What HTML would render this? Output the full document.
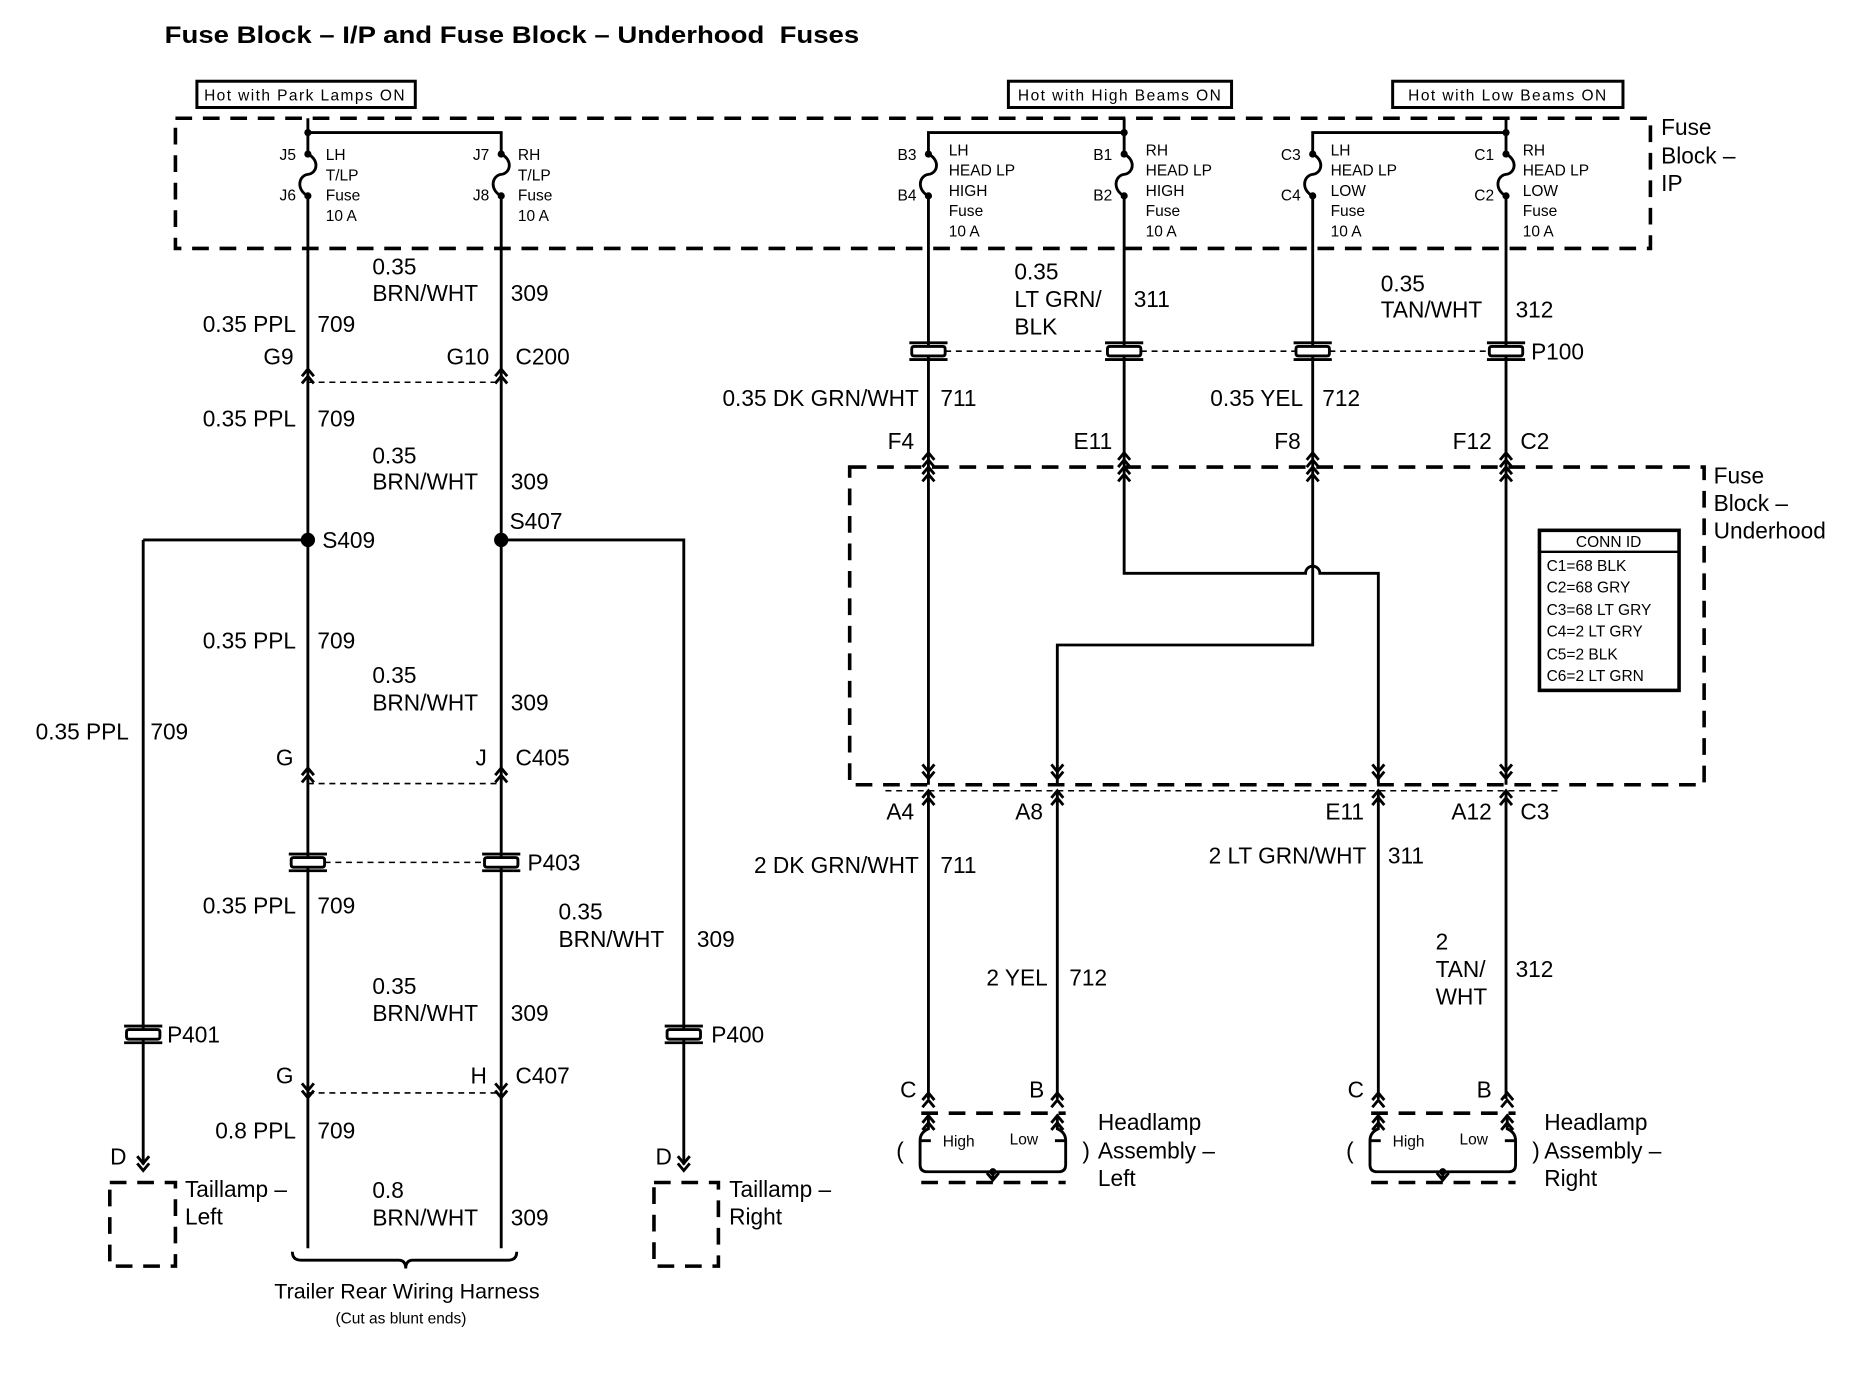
<!DOCTYPE html>
<html><head><meta charset="utf-8"><style>
html,body{margin:0;padding:0;background:#fff;}
svg{display:block;}
text{font-family:"Liberation Sans",sans-serif;fill:#000;}
.l{font-size:19px;}
.s{font-size:13px;}
.w{stroke:#000;stroke-width:2.4;fill:none;}
.d{stroke:#000;stroke-width:3;fill:none;stroke-dasharray:14,9;}
.dl{stroke:#000;stroke-width:1.3;fill:none;stroke-dasharray:5,4;}
.r{text-anchor:end;}
.m{text-anchor:middle;}
</style></head><body>
<svg width="1870" height="1376" viewBox="0 0 1567 1152" preserveAspectRatio="none" xmlns="http://www.w3.org/2000/svg">
<defs>
<g id="up"><path d="M-5,6 L0,0 L5,6 M-5,12 L0,6 L5,12" class="w" stroke-width="1.6"/></g>
<g id="dn"><path d="M-5,-6 L0,0 L5,-6 M-5,-12 L0,-6 L5,-12" class="w" stroke-width="1.6"/></g>
<g id="pill"><path d="M-12,-4 Q-14,-4 -14,-2 L-14,2 Q-14,4 -12,4 L12,4 Q14,4 14,2 L14,-2 Q14,-4 12,-4 Z" fill="#fff" stroke="#000" stroke-width="2.4"/><path d="M-16,-7 L16,-7 M-16,7 L16,7" stroke="#000" stroke-width="2.4"/></g>
<g id="fuse"><circle cx="0" cy="0" r="3"/><circle cx="0" cy="35" r="3"/><path d="M0,0 C10,5 8,16 0,17 C-8,18 -10,30 0,35" class="w" stroke-width="2"/></g>
</defs>

<text x="138" y="36" style="font-size:20px;font-weight:bold" textLength="582" lengthAdjust="spacingAndGlyphs">Fuse Block – I/P and Fuse Block – Underhood&#160; Fuses</text>

<rect x="165" y="68" width="183" height="22" fill="none" stroke="#000" stroke-width="2.5"/>
<text x="171" y="84" class="s" textLength="168">Hot with Park Lamps ON</text>
<rect x="845" y="68" width="187" height="22" fill="none" stroke="#000" stroke-width="2.5"/>
<text x="853" y="84" class="s" textLength="170">Hot with High Beams ON</text>
<rect x="1167" y="68" width="193" height="22" fill="none" stroke="#000" stroke-width="2.5"/>
<text x="1180" y="84" class="s" textLength="166">Hot with Low Beams ON</text>

<rect x="147" y="99" width="1236" height="109" class="d"/>
<text x="1392" y="113" class="l">Fuse</text><text x="1392" y="137" class="l">Block –</text><text x="1392" y="160" class="l">IP</text>

<!-- left fuses -->
<path d="M258,99 L258,129 M258,111 L420,111 L420,129" class="w"/>
<circle cx="258" cy="111" r="3"/>
<use href="#fuse" x="258" y="129"/><use href="#fuse" x="420" y="129"/>
<text x="248" y="134" class="s r">J5</text><text x="248" y="168" class="s r">J6</text>
<text x="273" y="134" class="s">LH</text><text x="273" y="151" class="s">T/LP</text><text x="273" y="168" class="s">Fuse</text><text x="273" y="185" class="s">10 A</text>
<text x="410" y="134" class="s r">J7</text><text x="410" y="168" class="s r">J8</text>
<text x="434" y="134" class="s">RH</text><text x="434" y="151" class="s">T/LP</text><text x="434" y="168" class="s">Fuse</text><text x="434" y="185" class="s">10 A</text>

<!-- right fuses -->
<path d="M942,99 L942,129 M942,111 L778,111 L778,129 M1262,99 L1262,129 M1262,111 L1100,111 L1100,129" class="w"/>
<circle cx="942" cy="111" r="3"/><circle cx="1262" cy="111" r="3"/>
<use href="#fuse" x="778" y="129"/><use href="#fuse" x="942" y="129"/><use href="#fuse" x="1100" y="129"/><use href="#fuse" x="1262" y="129"/>
<text x="768" y="134" class="s r">B3</text><text x="768" y="168" class="s r">B4</text>
<text x="932" y="134" class="s r">B1</text><text x="932" y="168" class="s r">B2</text>
<text x="1090" y="134" class="s r">C3</text><text x="1090" y="168" class="s r">C4</text>
<text x="1252" y="134" class="s r">C1</text><text x="1252" y="168" class="s r">C2</text>
<g class="s">
<text x="795" y="130">LH</text><text x="795" y="147">HEAD LP</text><text x="795" y="164">HIGH</text><text x="795" y="181">Fuse</text><text x="795" y="198">10 A</text>
<text x="960" y="130">RH</text><text x="960" y="147">HEAD LP</text><text x="960" y="164">HIGH</text><text x="960" y="181">Fuse</text><text x="960" y="198">10 A</text>
<text x="1115" y="130">LH</text><text x="1115" y="147">HEAD LP</text><text x="1115" y="164">LOW</text><text x="1115" y="181">Fuse</text><text x="1115" y="198">10 A</text>
<text x="1276" y="130">RH</text><text x="1276" y="147">HEAD LP</text><text x="1276" y="164">LOW</text><text x="1276" y="181">Fuse</text><text x="1276" y="198">10 A</text>
</g>

<!-- left wiring -->
<path d="M258,164 L258,1045 M420,164 L420,1045 M120,452 L258,452 M420,452 L573,452 L573,975 M120,452 L120,975" class="w"/>
<circle cx="258" cy="452" r="6"/><circle cx="420" cy="452" r="6"/>
<use href="#up" x="258" y="309"/><use href="#up" x="420" y="309"/>
<path d="M258,320 L420,320" class="dl"/>
<use href="#up" x="258" y="643"/><use href="#up" x="420" y="643"/>
<path d="M258,656 L420,656" class="dl"/>
<use href="#pill" x="258" y="722"/><use href="#pill" x="420" y="722"/>
<path d="M272,722 L406,722" class="dl"/>
<use href="#dn" x="258" y="919"/><use href="#dn" x="420" y="919"/>
<path d="M258,915 L420,915" class="dl"/>
<use href="#pill" x="120" y="866"/><use href="#pill" x="573" y="866"/>
<use href="#dn" x="120" y="980"/><use href="#dn" x="573" y="980"/>
<rect x="92" y="990" width="55" height="70" class="d" stroke-dasharray="12,8"/>
<rect x="548" y="990" width="54" height="70" class="d" stroke-dasharray="12,8"/>
<path d="M245,1048 Q245,1055 252,1055 L334,1055 Q340,1055 340,1062 Q340,1055 346,1055 L426,1055 Q433,1055 433,1048" class="w" stroke-width="2"/>

<g class="l">
<text x="312" y="230">0.35</text><text x="312" y="252">BRN/WHT</text><text x="428" y="252">309</text>
<text x="248" y="278" class="r">0.35 PPL</text><text x="266" y="278">709</text>
<text x="246" y="305" class="r">G9</text><text x="410" y="305" class="r">G10</text><text x="432" y="305">C200</text>
<text x="248" y="357" class="r">0.35 PPL</text><text x="266" y="357">709</text>
<text x="312" y="388">0.35</text><text x="312" y="410">BRN/WHT</text><text x="428" y="410">309</text>
<text x="270" y="459">S409</text><text x="427" y="443">S407</text>
<text x="248" y="543" class="r">0.35 PPL</text><text x="266" y="543">709</text>
<text x="312" y="572">0.35</text><text x="312" y="595">BRN/WHT</text><text x="428" y="595">309</text>
<text x="108" y="619" class="r">0.35 PPL</text><text x="126" y="619">709</text>
<text x="246" y="641" class="r">G</text><text x="408" y="641" class="r">J</text><text x="432" y="641">C405</text>
<text x="442" y="729">P403</text>
<text x="248" y="765" class="r">0.35 PPL</text><text x="266" y="765">709</text>
<text x="468" y="770">0.35</text><text x="468" y="793">BRN/WHT</text><text x="584" y="793">309</text>
<text x="312" y="832">0.35</text><text x="312" y="855">BRN/WHT</text><text x="428" y="855">309</text>
<text x="140" y="873">P401</text><text x="596" y="873">P400</text>
<text x="246" y="907" class="r">G</text><text x="408" y="907" class="r">H</text><text x="432" y="907">C407</text>
<text x="248" y="953" class="r">0.8 PPL</text><text x="266" y="953">709</text>
<text x="106" y="975" class="r">D</text><text x="563" y="975" class="r">D</text>
<text x="155" y="1002">Taillamp –</text><text x="155" y="1025">Left</text>
<text x="611" y="1002">Taillamp –</text><text x="611" y="1025">Right</text>
<text x="312" y="1003">0.8</text><text x="312" y="1026">BRN/WHT</text><text x="428" y="1026">309</text>
<text x="341" y="1087" class="m" style="font-size:18px">Trailer Rear Wiring Harness</text>
</g>
<text x="336" y="1108" class="s m">(Cut as blunt ends)</text>

<!-- right wiring -->
<path d="M778,164 L778,657 M942,164 L942,480 L1094,480 A6,6 0 0 1 1106,480 L1155,480 L1155,657 M1100,164 L1100,540 L886,540 L886,657 M1262,164 L1262,657" class="w"/>
<use href="#pill" x="778" y="294"/><use href="#pill" x="942" y="294"/><use href="#pill" x="1100" y="294"/><use href="#pill" x="1262" y="294"/>
<path d="M792,294 L928,294 M956,294 L1086,294 M1114,294 L1248,294" class="dl"/>
<use href="#up" x="778" y="379"/><use href="#up" x="942" y="379"/><use href="#up" x="1100" y="379"/><use href="#up" x="1262" y="379"/>
<use href="#up" x="778" y="391"/><use href="#up" x="942" y="391"/><use href="#up" x="1100" y="391"/><use href="#up" x="1262" y="391"/>
<rect x="712" y="391" width="716" height="266" class="d"/>
<use href="#dn" x="778" y="652"/><use href="#dn" x="886" y="652"/><use href="#dn" x="1155" y="652"/><use href="#dn" x="1262" y="652"/>
<use href="#up" x="778" y="662"/><use href="#up" x="886" y="662"/><use href="#up" x="1155" y="662"/><use href="#up" x="1262" y="662"/>
<path d="M778,662 L778,920 M886,662 L886,920 M1155,662 L1155,920 M1262,662 L1262,920" class="w"/>
<path d="M742,662 L1308,662" class="dl" stroke-dasharray="4,4"/>

<rect x="1290" y="444" width="117" height="134" fill="none" stroke="#000" stroke-width="3"/>
<path d="M1290,462 L1407,462" stroke="#000" stroke-width="2"/>
<g class="s"><text x="1348" y="458" class="m">CONN ID</text>
<text x="1296" y="478">C1=68 BLK</text><text x="1296" y="496">C2=68 GRY</text><text x="1296" y="515">C3=68 LT GRY</text>
<text x="1296" y="533">C4=2 LT GRY</text><text x="1296" y="552">C5=2 BLK</text><text x="1296" y="570">C6=2 LT GRN</text></g>

<g class="l">
<text x="850" y="234">0.35</text><text x="850" y="257">LT GRN/</text><text x="850" y="280">BLK</text><text x="950" y="257">311</text>
<text x="1157" y="244">0.35</text><text x="1157" y="266">TAN/WHT</text><text x="1270" y="266">312</text>
<text x="1283" y="301">P100</text>
<text x="770" y="340" class="r">0.35 DK GRN/WHT</text><text x="788" y="340">711</text>
<text x="1092" y="340" class="r">0.35 YEL</text><text x="1108" y="340">712</text>
<text x="766" y="376" class="r">F4</text><text x="932" y="376" class="r">E11</text><text x="1090" y="376" class="r">F8</text><text x="1250" y="376" class="r">F12</text><text x="1274" y="376">C2</text>
<text x="1436" y="405">Fuse</text><text x="1436" y="428">Block –</text><text x="1436" y="451">Underhood</text>
<text x="766" y="686" class="r">A4</text><text x="874" y="686" class="r">A8</text><text x="1143" y="686" class="r">E11</text><text x="1250" y="686" class="r">A12</text><text x="1274" y="686">C3</text>
<text x="770" y="731" class="r">2 DK GRN/WHT</text><text x="788" y="731">711</text>
<text x="1145" y="723" class="r">2 LT GRN/WHT</text><text x="1163" y="723">311</text>
<text x="878" y="825" class="r">2 YEL</text><text x="896" y="825">712</text>
<text x="1203" y="795">2</text><text x="1203" y="818">TAN/</text><text x="1203" y="841">WHT</text><text x="1270" y="818">312</text>
<text x="768" y="919" class="r">C</text><text x="875" y="919" class="r">B</text>
<text x="1143" y="919" class="r">C</text><text x="1250" y="919" class="r">B</text>
<text x="920" y="946">Headlamp</text><text x="920" y="970">Assembly –</text><text x="920" y="993">Left</text>
<text x="1294" y="946">Headlamp</text><text x="1294" y="970">Assembly –</text><text x="1294" y="993">Right</text>
</g>

<!-- headlamp symbols -->
<g id="hl">
<use href="#up" x="778" y="915"/><use href="#up" x="886" y="915"/>
<path d="M772,932 L893,932 M772,990 L893,990" class="d" stroke-dasharray="18,16"/>
<use href="#up" x="778" y="934"/><use href="#up" x="886" y="934"/>
<path d="M778,935 L778,945 Q771,948 771,955 L771,975 Q771,981 777,981 L887,981 Q893,981 893,975 L893,955 Q893,948 886,945 L886,935" class="w" stroke-width="2"/>
<path d="M771,955 L780,955 M893,955 L884,955" class="w" stroke-width="2"/>
<circle cx="832" cy="981" r="3"/>
<path d="M832,981 L832,988 M827,982 L832,988 L837,982" class="w" stroke-width="2"/>
<text x="790" y="960" class="s">High</text><text x="846" y="958" class="s">Low</text>
<text x="751" y="970" class="l">(</text><text x="907" y="970" class="l">)</text>
</g>
<use href="#hl" x="377" y="0"/>
</svg>
</body></html>
